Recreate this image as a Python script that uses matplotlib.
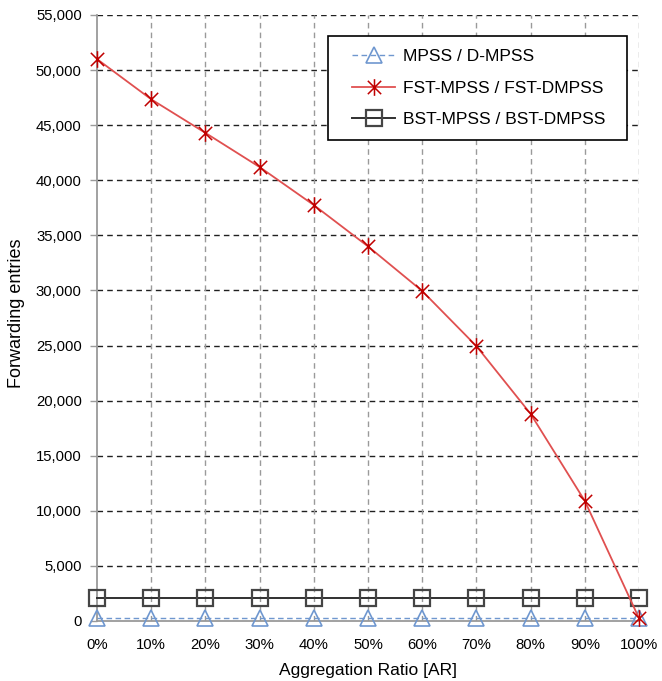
import numpy as np
import matplotlib
matplotlib.use("Agg")
import matplotlib.pyplot as plt
from matplotlib.ticker import FuncFormatter
from matplotlib.path import Path
from matplotlib.patches import Rectangle

# aggregation ratio (%) and forwarding entries per scheme
ratio = [0, 10, 20, 30, 40, 50, 60, 70, 80, 90, 100]
mpss = [250, 250, 250, 250, 250, 250, 250, 250, 250, 250, 250]
fst = [51000, 47350, 44300, 41200, 37750, 34000, 29950, 24950, 18800, 10900, 250]
bst = [2100, 2100, 2100, 2100, 2100, 2100, 2100, 2100, 2100, 2100, 2100]
yticks = [0, 5000, 10000, 15000, 20000, 25000, 30000, 35000, 40000, 45000, 50000, 55000]

plt.rcParams['font.family'] = ['Liberation Sans', 'DejaVu Sans']

# excel-like star: an X with a vertical bar through it
star = Path([(-1, -1), (1, 1), (-1, 1), (1, -1), (0, -1.25), (0, 1.25)],
            [Path.MOVETO, Path.LINETO, Path.MOVETO, Path.LINETO, Path.MOVETO, Path.LINETO])

fig = plt.figure(figsize=(6.62, 6.81), dpi=100)
ax = fig.add_axes([97/662, 1 - 621/681, 542/662, 606/681])

ax.plot(ratio, mpss, color='#6F97CF', lw=1.0, ls=(0, (4, 2.5)), marker='^',
        ms=12, mfc='none', mec='#6F97CF', mew=1.2, clip_on=False, zorder=4,
        label='MPSS / D-MPSS')
ax.plot(ratio, fst, color='#E05050', lw=1.3, marker=star, ms=12,
        mec='#C00000', mew=1.1, clip_on=False, zorder=5,
        label='FST-MPSS / FST-DMPSS')
ax.plot(ratio, bst, color='#303030', lw=1.4, marker='s', ms=11, mfc='none',
        mec='#454545', mew=1.6, clip_on=False, zorder=4,
        label='BST-MPSS / BST-DMPSS')

ax.set_xlim(0, 100)
ax.set_ylim(0, 55000)
ax.set_xticks(ratio)
ax.set_xticklabels([f"{r}%" for r in ratio])
ax.set_yticks(yticks)
ax.yaxis.set_major_formatter(FuncFormatter(lambda v, p: f"{int(v):,}"))

# grid: dark dashed horizontal, light dashed vertical
for y in yticks[1:]:
    ax.axhline(y, color='#202020', lw=1.0, ls=(0, (4, 3)), zorder=1)
for x in ratio[1:]:
    ax.axvline(x, color='#9A9A9A', lw=1.0, ls=(0, (4, 3)), zorder=1)

for s in ['top', 'right']:
    ax.spines[s].set_visible(False)
for s in ['left', 'bottom']:
    ax.spines[s].set_color('#9A9A9A')
    ax.spines[s].set_linewidth(1.3)

ax.tick_params(axis='y', length=5, width=1, color='#9A9A9A', labelsize=10.7, pad=6)
ax.tick_params(axis='x', length=0, labelsize=10.7, pad=12)

ax.set_xlabel('Aggregation Ratio [AR]', fontsize=12.5, va='center')
ax.xaxis.set_label_coords(0.5, -0.081)
ax.set_ylabel('Forwarding entries', fontsize=13, va='center')
ax.yaxis.set_label_coords(-0.149, 0.508)

# legend box drawn separately (wider side padding than legend allows)
ax.add_patch(Rectangle((0.426, 0.7937), 0.5517, 0.1716, transform=ax.transAxes,
                       fill=True, fc='white', ec='black', lw=1.2, zorder=6,
                       clip_on=False))
leg = ax.legend(loc='upper left', bbox_to_anchor=(0.4705, 0.944), fontsize=12.5,
                frameon=False, handlelength=2.5, handletextpad=0.45,
                labelspacing=0.95, borderpad=0, borderaxespad=0)
leg.set_zorder(7)

fig.savefig('out.png', dpi=100)
